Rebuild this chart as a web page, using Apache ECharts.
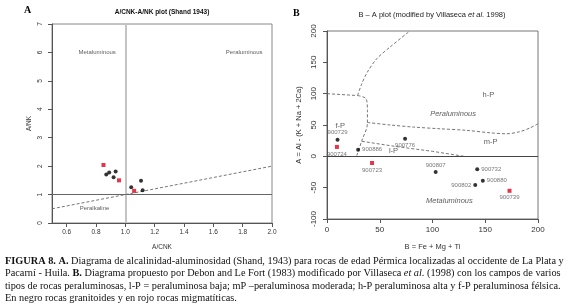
<!DOCTYPE html>
<html>
<head>
<meta charset="utf-8">
<script src="https://cdn.jsdelivr.net/npm/echarts@6/dist/echarts.min.js"></script>
<style>
  html, body { margin: 0; padding: 0; background: #fff; }
  #main { width: 570px; height: 308px; }
</style>
</head>
<body>
<div id="main"></div>
<script>
// -- panel A: Shand A/CNK vs A/NK --
let acnkBlack = [0.87, 0.89, 0.934, 0.92, 1.04, 1.107, 1.118];
let ankBlack = [1.71, 1.78, 1.81, 1.61, 1.26, 1.49, 1.15];
let acnkRed = [0.851, 0.957, 1.06];
let ankRed = [2.04, 1.50, 1.13];
let shandLine = [[0.5, 0.5], [2.0, 2.0]];
let acnkTicks = [0.6, 0.8, 1.0, 1.2, 1.4, 1.6, 1.8, 2.0];
let fieldsA = ['Metaluminous', 'Peraluminous', 'Peralkaline'];
let fieldsAxy = [[0.808, 6], [1.81, 6], [0.79, 0.5]];

// -- panel B: B-A plot (Villaseca) --
let sampleIds = ['900729', '900724', '900886', '900776', '900723', '900807', '900732', '900880', '900802', '900739'];
let bValues = [10, 9.4, 29.5, 74, 42.7, 103, 142.4, 147.7, 140.5, 173];
let aValues = [26.5, 15, 10.6, 28, -10.6, -25, -20.7, -38.8, -45.7, -55];
let rockType = ['g', 'm', 'g', 'g', 'm', 'g', 'g', 'g', 'g', 'm']; // g = granitoide, m = migmatita

// field boundaries
let limFP = [[0, 100], [29, 97]];
let limUpper = [[29, 97], [33, 116], [38.3, 134.5], [47.2, 155.8], [59.7, 174.3], [78, 199.4]];
let limLP = [[29, 97], [37, 92], [38.3, 73], [38.3, 52], [33, 25], [28, 0]];
let limMP = [[38.3, 54], [60, 50], [82, 46.7], [107, 44], [132, 41.5], [155, 37.5], [170, 36], [182, 39], [192, 45], [200, 52]];
let limLow = [[33, 24], [64, 16], [100, 8], [130, 0]];
let fieldsB = ['h-P', 'Peraluminous', 'f-P', 'm-P', 'l-P', 'Metaluminous'];
let fieldsBxy = [[153, 98], [119.5, 67], [12.5, 49], [155, 23], [63, 8.5], [116, -71]];
let italicB = ['Peraluminous', 'Metaluminous'];

// label side of each sample id
let labelSide = {
  '900729': 'top', '900724': 'bottom', '900886': 'right', '900776': 'bottom', '900723': 'bottom',
  '900807': 'top', '900732': 'right', '900880': 'right', '900802': 'left', '900739': 'bottom'
};

const SANS = 'Liberation Sans, Arial, sans-serif';
const SERIF = 'Liberation Serif, Times New Roman, serif';
const RED = '#e3001b';
const CAP = 10.3;

function zip(xs, ys) {
  return xs.map((x, i) => [x, ys[i]]);
}

function dashed(data, xi) {
  return {
    type: 'line', xAxisIndex: xi, yAxisIndex: xi, data: data, symbol: 'none', smooth: 0.3,
    silent: true, z: 2,
    lineStyle: { color: '#666', width: 0.9, type: [3, 2] }
  };
}

function textLayer(names, xy, xi, italics) {
  return {
    type: 'scatter', xAxisIndex: xi, yAxisIndex: xi, symbolSize: 0, silent: true, z: 5,
    data: names.map((n, i) => ({
      name: n, value: xy[i],
      label: { fontStyle: italics.indexOf(n) >= 0 ? 'italic' : 'normal' }
    })),
    label: {
      show: true, position: 'inside', formatter: '{b}', fontFamily: SANS,
      color: '#333', fontSize: xi === 0 ? 6 : 7.5
    },
    labelLayout: { hideOverlap: false }
  };
}

let ptsB = sampleIds.map((id, i) => ({ name: id, value: [bValues[i], aValues[i]], type: rockType[i] }));

function sampleSeries(kind) {
  return {
    type: 'scatter', xAxisIndex: 1, yAxisIndex: 1, z: 6,
    symbol: kind === 'm' ? 'rect' : 'circle',
    symbolSize: 4,
    itemStyle: { color: kind === 'm' ? RED : '#000' },
    data: ptsB.filter(p => p.type === kind).map(p => ({
      name: p.name, value: p.value,
      label: { position: labelSide[p.name] }
    })),
    label: { show: true, formatter: '{b}', fontSize: 6, color: '#555', fontFamily: SANS, distance: 2 }
  };
}

let axisCommon = {
  type: 'value',
  splitLine: { show: false },
  axisLine: { show: true, onZero: false, lineStyle: { color: '#555', width: 1 } },
  axisTick: { show: true, length: 4, lineStyle: { color: '#555' } },
  nameLocation: 'middle',
  nameTextStyle: { fontFamily: SANS, color: '#333' }
};

let option = {
  animation: false,
  backgroundColor: '#fff',
  grid: [
    { left: 52, top: 24, width: 220, height: 199, show: true, borderColor: '#888', borderWidth: 1, outerBoundsMode: 'none' },
    { left: 327, top: 31, width: 211, height: 188, show: true, borderColor: '#777', borderWidth: 1, outerBoundsMode: 'none' }
  ],
  xAxis: [
    Object.assign({}, axisCommon, {
      gridIndex: 0, min: 0.5, max: 2.0,
      axisTick: { show: true, length: 4, lineStyle: { color: '#555' }, customValues: acnkTicks },
      axisLabel: { customValues: acnkTicks, fontSize: 6.5, color: '#333', fontFamily: SANS, margin: 6,
        formatter: v => v.toFixed(1) },
      name: 'A/CNK', nameGap: 21, nameTextStyle: { fontFamily: SANS, color: '#333', fontSize: 6.5 }
    }),
    Object.assign({}, axisCommon, {
      gridIndex: 1, min: 0, max: 200, interval: 50,
      axisLabel: { fontSize: 8, color: '#333', fontFamily: SANS, margin: 7 },
      name: 'B = Fe + Mg + Ti', nameGap: 24, nameTextStyle: { fontFamily: SANS, color: '#333', fontSize: 7.5 }
    })
  ],
  yAxis: [
    Object.assign({}, axisCommon, {
      gridIndex: 0, min: 0, max: 7, interval: 1,
      axisLabel: { rotate: 90, fontSize: 6.5, color: '#333', fontFamily: SANS, margin: 8 },
      name: 'A/NK', nameGap: 19, nameTextStyle: { fontFamily: SANS, color: '#333', fontSize: 6.5 }
    }),
    Object.assign({}, axisCommon, {
      gridIndex: 1, min: -100, max: 200, interval: 50,
      axisLabel: { rotate: 90, fontSize: 8, color: '#333', fontFamily: SANS, margin: 9 },
      name: 'A = Al - (K + Na + 2Ca)', nameGap: 24, nameTextStyle: { fontFamily: SANS, color: '#333', fontSize: 7.5 }
    })
  ],
  series: [
    // panel A
    Object.assign(dashed(shandLine, 0), {
      smooth: false,
      markLine: {
        silent: true, symbol: 'none', label: { show: false },
        data: [
          { xAxis: 1.0, lineStyle: { color: '#c4c4c4', width: 2, type: 'solid' } },
          { yAxis: 1.0, lineStyle: { color: '#666', width: 1, type: 'solid' } }
        ]
      }
    }),
    {
      type: 'scatter', xAxisIndex: 0, yAxisIndex: 0, symbol: 'circle', symbolSize: 4, z: 6,
      itemStyle: { color: '#000' }, data: zip(acnkBlack, ankBlack)
    },
    {
      type: 'scatter', xAxisIndex: 0, yAxisIndex: 0, symbol: 'rect', symbolSize: 4, z: 6,
      itemStyle: { color: RED }, data: zip(acnkRed, ankRed)
    },
    textLayer(fieldsA, fieldsAxy, 0, []),
    // panel B
    Object.assign(dashed(limFP, 1), {
      smooth: false,
      markLine: {
        silent: true, symbol: 'none', label: { show: false },
        data: [{ yAxis: 0, lineStyle: { color: '#444', width: 1, type: 'solid' } }]
      }
    }),
    dashed(limUpper, 1),
    dashed(limLP, 1),
    dashed(limMP, 1),
    Object.assign(dashed(limLow, 1), { smooth: false }),
    textLayer(fieldsB, fieldsBxy, 1, italicB),
    sampleSeries('g'),
    sampleSeries('m')
  ],
  graphic: [
    { type: 'text', left: 24, top: 5, style: { text: 'A', font: 'bold 10px ' + SERIF, fill: '#000' } },
    { type: 'text', x: 162, y: 12, style: { text: 'A/CNK-A/NK plot (Shand 1943)', font: 'bold 6.5px ' + SANS,
      fill: '#111', align: 'center', verticalAlign: 'middle' } },
    { type: 'text', left: 293, top: 8, style: { text: 'B', font: 'bold 10px ' + SERIF, fill: '#000' } },
    { type: 'text', x: 432, y: 15, style: {
      text: 'B \u2013 A plot (modified by Villaseca {i|et al.} 1998)', font: '7.5px ' + SANS, fill: '#222',
      align: 'center', verticalAlign: 'middle', rich: { i: { fontStyle: 'italic', fontSize: 7.5, fontFamily: SANS } } } },
    { type: 'text', x: 5, y: 261, style: {
      text: '{b|FIGURA 8. A.} Diagrama de alcalinidad-aluminosidad (Shand, 1943) para rocas de edad Pérmica localizadas al occidente de La Plata y',
      font: CAP + 'px ' + SERIF, fill: '#111', verticalAlign: 'middle',
      rich: { b: { fontWeight: 'bold', fontSize: CAP, fontFamily: SERIF } } } },
    { type: 'text', x: 5, y: 273.5, style: {
      text: 'Pacarní - Huila. {b|B.} Diagrama propuesto por Debon and Le Fort (1983) modificado por Villaseca {i|et al}. (1998) con los campos de varios',
      font: CAP + 'px ' + SERIF, fill: '#111', verticalAlign: 'middle',
      rich: { b: { fontWeight: 'bold', fontSize: CAP, fontFamily: SERIF }, i: { fontStyle: 'italic', fontSize: CAP, fontFamily: SERIF } } } },
    { type: 'text', x: 5, y: 286, style: {
      text: 'tipos de rocas peraluminosas, l-P = peraluminosa baja; mP \u2013peraluminosa moderada; h-P peraluminosa alta y f-P peraluminosa félsica.',
      font: CAP + 'px ' + SERIF, fill: '#111', verticalAlign: 'middle' } },
    { type: 'text', x: 5, y: 298.5, style: {
      text: 'En negro rocas granitoides y en rojo rocas migmatíticas.',
      font: CAP + 'px ' + SERIF, fill: '#111', verticalAlign: 'middle' } }
  ]
};

let myChart = echarts.init(document.getElementById('main'));
myChart.setOption(option);
</script>
</body>
</html>
